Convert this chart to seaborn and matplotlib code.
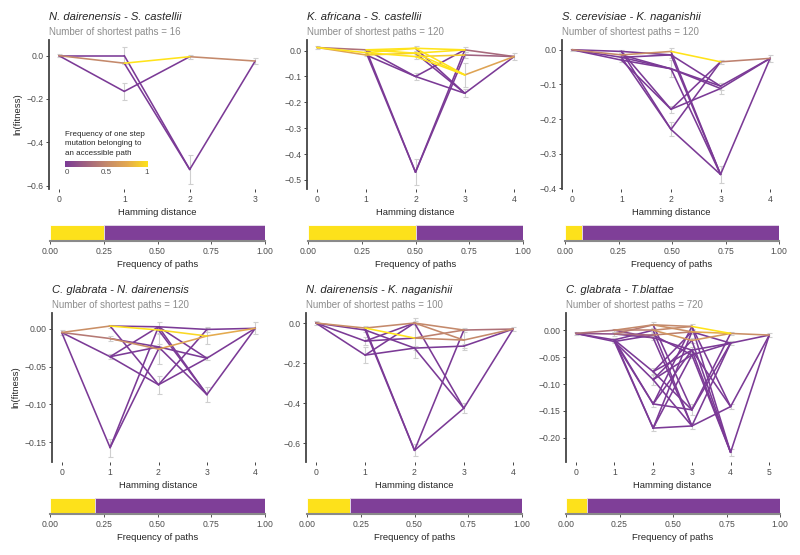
import numpy as np
import pandas as pd
import matplotlib
matplotlib.use("Agg")
import matplotlib.pyplot as plt
from matplotlib.colors import LinearSegmentedColormap
import seaborn as sns

# Panel labels
titles = ["N. dairenensis - S. castellii", "K. africana - S. castellii",
          "S. cerevisiae - K. naganishii", "C. glabrata - N. dairenensis",
          "N. dairenensis - K. naganishii", "C. glabrata - T.blattae"]
n_paths = [16, 120, 120, 120, 100, 720]
# share of accessible paths (yellow part of the bottom bar)
acc_frac = [0.25, 0.50, 0.08, 0.21, 0.20, 0.10]

# Genotypes: first char of a name = Hamming distance
p1_nodes = ["0", "1a", "1b", "1c", "2a", "2b", "3"]
p1_fit = [0.0, 0.0, -0.035, -0.165, -0.005, -0.525, -0.025]
p1_err = [0.008, 0.04, 0.005, 0.04, 0.01, 0.065, 0.012]
p1_edges = [("0", "1a", 0), ("0", "1b", 0.5), ("0", "1c", 0), ("1a", "2b", 0),
            ("1b", "2a", 1), ("1b", "2b", 0), ("1c", "2a", 0), ("2a", "3", 0.5),
            ("2b", "3", 0)]

p2_nodes = ["0", "1a", "1b", "1c", "2a", "2b", "2c", "2d", "2e",
            "3a", "3b", "3c", "3d", "4"]
p2_fit = [0.012, 0.003, -0.008, -0.017, 0.009, -0.01, -0.023, -0.1, -0.47,
          0.003, -0.017, -0.094, -0.165, -0.023]
p2_err = [0.005, 0.005, 0.005, 0.005, 0.01, 0.01, 0.01, 0.012, 0.05,
          0.01, 0.01, 0.045, 0.015, 0.012]
p2_edges = [("0", "1a", 0.35), ("0", "1b", 1), ("0", "1c", 0.7),
            ("1a", "2a", 1), ("1a", "2b", 1), ("1b", "2c", 1), ("1b", "2a", 1),
            ("1c", "2b", 0.9), ("1a", "2d", 0), ("1a", "2e", 0), ("1b", "2e", 0),
            ("1c", "2d", 0),
            ("2a", "3a", 1), ("2a", "3c", 1), ("2b", "3c", 1), ("2c", "3c", 1),
            ("2b", "3a", 1), ("2c", "3b", 0.9), ("2a", "3d", 0), ("2b", "3d", 0),
            ("2d", "3a", 0), ("2d", "3d", 0), ("2e", "3a", 0), ("2e", "3b", 0),
            ("3a", "4", 0.3), ("3b", "4", 0.25), ("3c", "4", 0.7), ("3d", "4", 0)]

p3_nodes = ["0", "1a", "1b", "1c", "1d", "2a", "2b", "2c", "2d", "2e",
            "3a", "3b", "3c", "3d", "4"]
p3_fit = [0.0, -0.005, -0.015, -0.022, -0.03, -0.005, -0.015, -0.055, -0.172,
          -0.23, -0.035, -0.105, -0.112, -0.36, -0.025]
p3_err = [0.003, 0.005, 0.005, 0.005, 0.005, 0.01, 0.01, 0.025, 0.01,
          0.02, 0.005, 0.01, 0.015, 0.025, 0.01]
p3_edges = [("0", "1a", 0), ("0", "1b", 0.5), ("0", "1c", 0), ("0", "1d", 0),
            ("1a", "2b", 0), ("1a", "2d", 0), ("1a", "2e", 0), ("1b", "2a", 0.55),
            ("1b", "2c", 0), ("1c", "2c", 0), ("1c", "2b", 0), ("1c", "2e", 0),
            ("1d", "2c", 0), ("1d", "2d", 0),
            ("2a", "3a", 1), ("2a", "3d", 0), ("2b", "3b", 0), ("2b", "3d", 0),
            ("2c", "3b", 0), ("2c", "3c", 0), ("2c", "3d", 0), ("2d", "3a", 0),
            ("2d", "3c", 0), ("2e", "3a", 0), ("2e", "3d", 0),
            ("3a", "4", 0.45), ("3b", "4", 0), ("3c", "4", 0), ("3d", "4", 0)]

p4_nodes = ["0", "1a", "1b", "1c", "1d", "2a", "2b", "2c", "2d", "2e",
            "3a", "3b", "3c", "3d", "4"]
p4_fit = [-0.005, 0.0035, -0.013, -0.037, -0.157, 0.0025, -0.0017, -0.024, -0.027,
          -0.074, -0.001, -0.0097, -0.039, -0.087, 0.0005]
p4_err = [0.003, 0.002, 0.003, 0.003, 0.012, 0.006, 0.004, 0.004, 0.02,
          0.012, 0.003, 0.01, 0.003, 0.01, 0.008]
p4_edges = [("0", "1a", 0.55), ("0", "1b", 0.4), ("0", "1c", 0), ("0", "1d", 0),
            ("1a", "2b", 1), ("1a", "2a", 0), ("1a", "2e", 0), ("1b", "2d", 0.55),
            ("1b", "2c", 0), ("1c", "2a", 0), ("1c", "2c", 0), ("1d", "2a", 0),
            ("1d", "2d", 0), ("1c", "2e", 0),
            ("2a", "3a", 0), ("2a", "3c", 0), ("2b", "3b", 0.95), ("2b", "3d", 0),
            ("2c", "3c", 0), ("2c", "3d", 0), ("2d", "3b", 0.7), ("2e", "3a", 0),
            ("2e", "3c", 0), ("2a", "3d", 0),
            ("3a", "4", 0), ("3b", "4", 0.75), ("3c", "4", 0), ("3d", "4", 0)]

p5_nodes = ["0", "1a", "1b", "1c", "1d", "2a", "2b", "2c", "2d",
            "3a", "3b", "3c", "3d", "4"]
p5_fit = [0.0, -0.025, -0.035, -0.09, -0.16, 0.0, -0.075, -0.125, -0.635,
          -0.035, -0.085, -0.115, -0.425, -0.03]
p5_err = [0.008, 0.008, 0.01, 0.02, 0.04, 0.01, 0.1, 0.01, 0.03,
          0.008, 0.05, 0.01, 0.025, 0.008]
p5_edges = [("0", "1a", 0.55), ("0", "1b", 0), ("0", "1c", 0), ("0", "1d", 0),
            ("1a", "2b", 1), ("1a", "2a", 0.5), ("1a", "2d", 0), ("1b", "2d", 0),
            ("1b", "2c", 0), ("1c", "2a", 0), ("1c", "2b", 0), ("1d", "2a", 0),
            ("1d", "2c", 0),
            ("2a", "3a", 0.5), ("2a", "3b", 0.5), ("2a", "3d", 0), ("2b", "3b", 0.5),
            ("2b", "3a", 0.45), ("2c", "3c", 0), ("2c", "3d", 0), ("2d", "3a", 0),
            ("2d", "3d", 0),
            ("3a", "4", 0.35), ("3b", "4", 0.5), ("3c", "4", 0), ("3d", "4", 0)]

p6_nodes = ["0", "1a", "1b", "1c", "1d", "2a", "2b", "2c", "2d", "2e", "2f",
            "2g", "2h", "3a", "3b", "3c", "3d", "3e", "3f", "3g",
            "4a", "4b", "4c", "4d", "5"]
p6_fit = [-0.006, 0.0, -0.007, -0.018, -0.021, 0.01, 0.0, -0.009, -0.014,
          -0.077, -0.092, -0.137, -0.182, 0.007, -0.003, -0.019, -0.037, -0.046,
          -0.148, -0.178, -0.006, -0.024, -0.142, -0.227, -0.009]
p6_err = [0.002, 0.003, 0.003, 0.003, 0.003, 0.005, 0.004, 0.004, 0.004,
          0.006, 0.01, 0.005, 0.005, 0.004, 0.004, 0.004, 0.006, 0.005,
          0.01, 0.005, 0.003, 0.004, 0.004, 0.006, 0.003]
p6_edges = [("0", "1a", 0.35), ("0", "1b", 0.15), ("0", "1c", 0), ("0", "1d", 0),
            ("1a", "2a", 0.5), ("1a", "2b", 0.45), ("1b", "2a", 0.4), ("1b", "2c", 0.3),
            ("1a", "2d", 0.1), ("1b", "2d", 0), ("1c", "2e", 0), ("1c", "2g", 0),
            ("1c", "2h", 0), ("1d", "2f", 0), ("1d", "2g", 0), ("1d", "2h", 0),
            ("1c", "2b", 0), ("1d", "2c", 0),
            ("2a", "3a", 0.5), ("2a", "3b", 0.55), ("2b", "3a", 0.5), ("2b", "3c", 0.6),
            ("2c", "3b", 0.45), ("2a", "3f", 0), ("2b", "3g", 0), ("2c", "3e", 0),
            ("2d", "3d", 0), ("2d", "3g", 0), ("2e", "3b", 0), ("2e", "3d", 0),
            ("2e", "3f", 0), ("2f", "3c", 0), ("2f", "3e", 0), ("2f", "3g", 0),
            ("2g", "3a", 0), ("2g", "3d", 0), ("2g", "3f", 0), ("2h", "3b", 0),
            ("2h", "3g", 0), ("2h", "3e", 0),
            ("3a", "4a", 1), ("3b", "4a", 0.75), ("3c", "4a", 0.6), ("3a", "4d", 0),
            ("3a", "4c", 0), ("3b", "4b", 0), ("3c", "4d", 0), ("3d", "4b", 0),
            ("3d", "4c", 0), ("3e", "4b", 0), ("3e", "4d", 0), ("3f", "4b", 0),
            ("3f", "4a", 0), ("3g", "4b", 0), ("3g", "4c", 0), ("3d", "4d", 0),
            ("4a", "5", 0.55), ("4b", "5", 0), ("4c", "5", 0), ("4d", "5", 0)]

PURPLE = "#7F3F98"
YELLOW = "#FDE11B"
cmap = LinearSegmentedColormap.from_list(
    "acc", [(0, "#7B3A96"), (0.5, "#C4896B"), (0.75, "#E4A94F"), (1, "#FFE31A")])

sns.set_theme(style="white")
plt.rcParams["font.family"] = ["Liberation Sans", "DejaVu Sans"]

W, H = 800, 555


def box(l, t, r, b):
    return [l / W, 1 - b / H, (r - l) / W, (b - t) / H]


def path_frame(nodes, fit, edges):
    pos = {n: (int(n[0]), f) for n, f in zip(nodes, fit)}
    rows = []
    for i, (a, b, freq) in enumerate(edges):
        for n in (a, b):
            rows.append({"edge": i, "hd": pos[n][0], "fitness": pos[n][1], "freq": freq})
    return pd.DataFrame(rows)


panels = [
    dict(nodes=p1_nodes, fit=p1_fit, err=p1_err, edges=p1_edges,
         main=(49, 40, 265, 189), bar=(50, 225, 265, 241), xmax=3,
         ylim=(-0.615, 0.072), yticks=[0, -0.2, -0.4, -0.6], fmt="{:.1f}"),
    dict(nodes=p2_nodes, fit=p2_fit, err=p2_err, edges=p2_edges,
         main=(307, 40, 524, 189), bar=(308, 225, 523, 241), xmax=4,
         ylim=(-0.535, 0.041), yticks=[0, -0.1, -0.2, -0.3, -0.4, -0.5], fmt="{:.1f}"),
    dict(nodes=p3_nodes, fit=p3_fit, err=p3_err, edges=p3_edges,
         main=(562, 40, 780, 189), bar=(565, 225, 779, 241), xmax=4,
         ylim=(-0.402, 0.028), yticks=[0, -0.1, -0.2, -0.3, -0.4], fmt="{:.1f}"),
    dict(nodes=p4_nodes, fit=p4_fit, err=p4_err, edges=p4_edges,
         main=(52, 313, 265, 462), bar=(50, 498, 265, 514), xmax=4,
         ylim=(-0.176, 0.0207), yticks=[0, -0.05, -0.10, -0.15], fmt="{:.2f}"),
    dict(nodes=p5_nodes, fit=p5_fit, err=p5_err, edges=p5_edges,
         main=(306, 313, 523, 462), bar=(307, 498, 522, 514), xmax=4,
         ylim=(-0.693, 0.05), yticks=[0, -0.2, -0.4, -0.6], fmt="{:.1f}"),
    dict(nodes=p6_nodes, fit=p6_fit, err=p6_err, edges=p6_edges,
         main=(566, 313, 779, 462), bar=(566, 498, 780, 514), xmax=5,
         ylim=(-0.245, 0.032), yticks=[0, -0.05, -0.10, -0.15, -0.20], fmt="{:.2f}"),
]

fig = plt.figure(figsize=(8, 5.55), dpi=100)
TICK_C = "#4D4D4D"


def fmt_tick(fmt, v):
    s = fmt.format(abs(v))
    return "\u2212" + s if v < 0 else s


for i, p in enumerate(panels):
    l, t, r, b = p["main"]
    ax = fig.add_axes(box(l, t, r, b))
    hd = [int(n[0]) for n in p["nodes"]]
    ax.errorbar(hd, p["fit"], yerr=p["err"], fmt="none", ecolor="#CFCFCF",
                elinewidth=0.8, capsize=1.8, capthick=0.8, zorder=1)
    df = path_frame(p["nodes"], p["fit"], p["edges"])
    sns.lineplot(data=df, x="hd", y="fitness", units="edge", estimator=None,
                 hue="freq", palette=cmap, hue_norm=(0, 1), legend=False,
                 sort=False, lw=1.15, ax=ax, zorder=2)
    pad = 0.05 * p["xmax"]
    ax.set_xlim(-pad, p["xmax"] + pad)
    ax.set_ylim(*p["ylim"])
    ax.set_xticks(range(p["xmax"] + 1))
    ax.set_yticks(p["yticks"])
    ax.set_yticklabels([fmt_tick(p["fmt"], v) for v in p["yticks"]])
    for s in ["top", "right", "bottom"]:
        ax.spines[s].set_visible(False)
    ax.spines["left"].set_color("#444444")
    ax.spines["left"].set_linewidth(1.3)
    ax.tick_params(axis="both", labelsize=6.2, labelcolor=TICK_C, color="#444444",
                   length=2.5, width=0.7, bottom=True, left=True, pad=1.5)
    ax.set_xlabel("Hamming distance", fontsize=6.8, labelpad=3)
    ax.set_ylabel("ln(fitness)" if i % 3 == 0 else "", fontsize=6.8, labelpad=3)

    fig.text(l / W, 1 - (t - 23) / H, titles[i], fontsize=8.1, style="italic",
             ha="left", va="center")
    fig.text(l / W, 1 - (t - 8) / H, f"Number of shortest paths = {n_paths[i]}",
             fontsize=7, color="#8C8C8C", ha="left", va="center")

    # frequency of accessible vs inaccessible paths
    bl, bt, br, bb = p["bar"]
    bx = fig.add_axes(box(bl, bt, br, bb))
    bx.barh(0.5, acc_frac[i], height=1, left=0, color=YELLOW, edgecolor="white", lw=0.6)
    bx.barh(0.5, 1 - acc_frac[i], height=1, left=acc_frac[i], color=PURPLE,
            edgecolor="#E6DDEB", lw=0.6)
    bx.set_xlim(0, 1)
    bx.set_ylim(-0.08, 1)
    bx.set_yticks([])
    bx.set_xticks([0, 0.25, 0.5, 0.75, 1])
    bx.set_xticklabels(["0.00", "0.25", "0.50", "0.75", "1.00"])
    for s in ["top", "right", "left"]:
        bx.spines[s].set_visible(False)
    bx.spines["bottom"].set_color("#8A8A8A")
    bx.spines["bottom"].set_linewidth(1.5)
    bx.tick_params(axis="x", labelsize=6.2, labelcolor=TICK_C, color="#555555",
                   length=2.5, width=0.7, bottom=True, pad=1.5)
    bx.set_xlabel("Frequency of paths", fontsize=6.8, labelpad=3)

# colour legend inside first panel
for k, line in enumerate(["Frequency of one step", "mutation belonging to",
                          "an accessible path"]):
    fig.text(65 / W, 1 - (134 + 9.5 * k) / H, line, fontsize=5.8, ha="left", va="center")
cax = fig.add_axes(box(65, 161, 148, 167))
grad = np.linspace(0, 1, 256).reshape(1, -1)
cax.imshow(grad, aspect="auto", cmap=cmap, extent=(-0.02, 1.02, 0, 1))
cax.set_xlim(-0.02, 1.02)
cax.set_yticks([])
cax.set_xticks([0, 0.5, 1])
cax.set_xticklabels(["0", "0.5", "1"])
cax.tick_params(axis="x", labelsize=5.8, labelcolor=TICK_C, color="white",
                direction="in", length=1.5, width=0.5, pad=1.5)
for s in cax.spines.values():
    s.set_visible(False)

fig.savefig("out.png", dpi=100)
